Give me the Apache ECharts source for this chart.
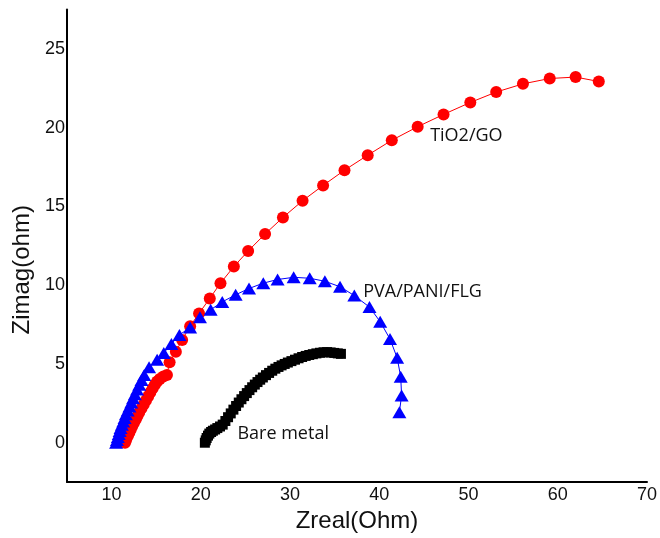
<!DOCTYPE html>
<html>
<head>
<meta charset="utf-8">
<script src="https://cdn.jsdelivr.net/npm/echarts@6/dist/echarts.min.js"></script>
<style>
  html, body { margin: 0; padding: 0; background: #fff; overflow: hidden; }
  #chart { width: 660px; height: 538px; }
</style>
</head>
<body>
<div id="chart"></div>
<script>
// Nyquist impedance spectra: [Zreal, Zimag] in ohm
const tio2go = [
  [11.5,0],[11.6,0.15],[11.7,0.3],[11.85,0.48],[12.0,0.66],[12.15,0.85],[12.3,1.04],[12.5,1.25],
  [12.7,1.47],[12.9,1.7],[13.1,1.93],[13.35,2.18],[13.6,2.43],[13.85,2.68],[14.1,2.93],[14.35,3.2],
  [14.6,3.45],[14.85,3.68],[15.1,3.88],[15.4,4.05],[15.8,4.2],[16.2,4.3],[16.5,5.11],[17.2,5.78],
  [17.9,6.52],[18.8,7.4],[19.8,8.21],[21.0,9.16],[22.2,10.13],[23.7,11.18],[25.3,12.17],[27.2,13.25],
  [29.2,14.3],[31.4,15.36],[33.7,16.33],[36.1,17.3],[38.7,18.25],[41.4,19.2],[44.3,20.06],[47.2,20.84],
  [50.2,21.6],[53.1,22.26],[56.1,22.78],[59.1,23.12],[62.0,23.21],[64.6,22.93]
];
const pvaPaniFlg = [
  [10.5,0],[10.6,0.18],[10.7,0.36],[10.8,0.55],[10.9,0.74],[11.0,0.93],[11.15,1.14],[11.3,1.35],
  [11.45,1.57],[11.6,1.8],[11.8,2.04],[12.0,2.3],[12.2,2.56],[12.4,2.82],[12.6,3.08],[12.85,3.38],
  [13.1,3.68],[13.35,3.98],[13.65,4.3],[14.2,4.79],[15.1,5.27],[15.85,5.7],[16.7,6.27],[17.6,6.84],
  [18.8,7.32],[19.9,7.96],[21.1,8.44],[22.4,8.94],[23.9,9.39],[25.4,9.79],[27.0,10.13],[28.6,10.36],
  [30.4,10.5],[32.2,10.44],[33.9,10.25],[35.6,9.9],[37.2,9.34],[38.9,8.61],[40.1,7.68],[41.2,6.58],
  [42.0,5.39],[42.4,4.18],[42.5,2.99],[42.25,1.94]
];
const bareMetal = [
  [20.45,0],[20.55,0.15],[20.65,0.3],[20.8,0.45],[20.95,0.58],[21.15,0.68],[21.35,0.76],[21.6,0.84],
  [21.85,0.93],[22.15,1.03],[22.45,1.15],[22.75,1.38],[23.05,1.62],[23.35,1.86],[23.65,2.1],[23.95,2.33],
  [24.25,2.55],[24.55,2.76],[24.85,2.96],[25.15,3.15],[25.45,3.34],[25.75,3.52],[26.05,3.69],[26.35,3.85],
  [26.65,4.0],[26.95,4.14],[27.3,4.29],[27.65,4.43],[28.0,4.57],[28.35,4.7],[28.7,4.81],[29.05,4.91],
  [29.4,5.0],[29.75,5.09],[30.15,5.18],[30.55,5.27],[30.95,5.36],[31.35,5.44],[31.75,5.51],[32.15,5.57],
  [32.55,5.62],[32.95,5.67],[33.35,5.71],[33.75,5.74],[34.15,5.75],[34.55,5.73],[34.95,5.7],[35.35,5.67],
  [35.7,5.64]
];
const seriesNames = ['TiO2/GO', 'PVA/PANI/FLG', 'Bare metal'];
const xTickLabels = [10, 20, 30, 40, 50, 60, 70];
const yTickLabels = [0, 5, 10, 15, 20, 25];

const axisFont = 'Liberation Sans, Arial, sans-serif';
const noteFont = 'Open Sans, sans-serif';

// curve caption placed just to the right of a data-space anchor
function note(text, coord) {
  return {
    symbol: 'circle', symbolSize: 0, silent: true,
    data: [{ coord: coord, value: text }],
    label: {
      show: true, position: 'right', distance: 0,
      formatter: text, color: '#111', fontFamily: noteFont, fontSize: 18
    }
  };
}

const chart = echarts.init(document.getElementById('chart'), null, { renderer: 'canvas', width: 660, height: 538 });
chart.setOption({
  animation: false,
  backgroundColor: '#fff',
  grid: { left: 67, top: 9.5, width: 581, height: 474, containLabel: false },
  xAxis: {
    type: 'value', min: 5, max: 70, interval: 5,
    name: 'Zreal(Ohm)', nameLocation: 'middle', nameGap: 26,
    nameTextStyle: { fontFamily: axisFont, fontSize: 24, color: '#111', verticalAlign: 'top' },
    axisLine: { show: true, onZero: false, lineStyle: { color: '#000', width: 2 } },
    axisTick: { show: false },
    splitLine: { show: false },
    axisLabel: {
      fontFamily: axisFont, fontSize: 18, color: '#111', margin: 4,
      formatter: v => xTickLabels.includes(Math.round(v * 100) / 100) ? String(v) : ''
    }
  },
  yAxis: {
    type: 'value', min: -2.5, max: 27.5, interval: 2.5,
    name: 'Zimag(ohm)', nameLocation: 'middle', nameGap: 25,
    nameTextStyle: { fontFamily: axisFont, fontSize: 24, color: '#111', padding: [0, 48, 0, 0] },
    axisLine: { show: true, onZero: false, lineStyle: { color: '#000', width: 2 } },
    axisTick: { show: false },
    splitLine: { show: false },
    axisLabel: {
      fontFamily: axisFont, fontSize: 18, color: '#111', margin: 2,
      formatter: v => yTickLabels.includes(Math.round(v * 100) / 100) ? String(v) : ''
    }
  },
  series: [
    {
      name: seriesNames[0], type: 'line', data: tio2go,
      symbol: 'circle', symbolSize: 12,
      itemStyle: { color: '#ff0000' },
      lineStyle: { color: '#ff0000', width: 1 },
      markPoint: note(seriesNames[0], [45.7, 19.5])
    },
    {
      name: seriesNames[1], type: 'line', data: pvaPaniFlg,
      symbol: 'triangle', symbolSize: [14, 12],
      itemStyle: { color: '#0000ff' },
      lineStyle: { color: '#0000ff', width: 1 },
      markPoint: note(seriesNames[1], [38.2, 9.6])
    },
    {
      name: seriesNames[2], type: 'line', data: bareMetal,
      symbol: 'rect', symbolSize: 10,
      itemStyle: { color: '#000' },
      lineStyle: { color: '#000', width: 1 },
      markPoint: note(seriesNames[2], [24.1, 0.55])
    }
  ]
});
</script>
</body>
</html>
